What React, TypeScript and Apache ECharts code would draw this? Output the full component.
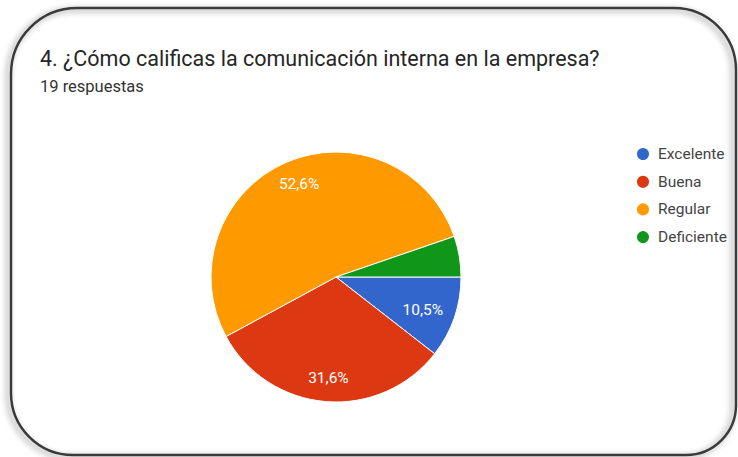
import React, { useEffect, useRef } from "react";
import * as echarts from "echarts";

const categories = ["Excelente", "Buena", "Regular", "Deficiente"];
const counts = [2, 6, 10, 1];
const colors = ["#3366cc", "#dc3912", "#ff9900", "#109618"];
const titleText = "4. ¿Cómo calificas la comunicación interna en la empresa?";
const subtitleText = "19 respuestas";

const CX = 336;
const CY = 277;
const R = 125;

export default function App() {
  const ref = useRef<HTMLDivElement>(null);
  useEffect(() => {
    if (!ref.current) return;
    const chart = echarts.init(ref.current, null, { renderer: "svg" });
    const total = counts.reduce((a, b) => a + b, 0);
    chart.setOption({
      animation: false,
      backgroundColor: "#ffffff",
      textStyle: { fontFamily: "Roboto" },
      title: {
        text: titleText,
        subtext: subtitleText,
        left: 35,
        top: 42,
        itemGap: 9,
        textStyle: { fontFamily: "Roboto", fontSize: 21.5, fontWeight: "normal", color: "#262626" },
        subtextStyle: { fontFamily: "Roboto", fontSize: 16.5, color: "#333333" },
      },
      legend: {
        orient: "vertical",
        left: 630,
        top: 141,
        itemWidth: 14,
        itemHeight: 14,
        itemGap: 11.7,
        icon: "circle",
        textStyle: { fontFamily: "Roboto", fontSize: 15.5, lineHeight: 16, color: "#444444", padding: [0, 0, 0, 3] },
        data: categories,
      },
      graphic: [
        {
          type: "rect",
          shape: { x: 11, y: 8, width: 725, height: 447, r: [66, 62, 50, 62] },
          style: {
            fill: "none",
            stroke: "#3a3a3a",
            lineWidth: 2.5,
            shadowBlur: 6,
            shadowColor: "rgba(0,0,0,0.45)",
            shadowOffsetX: -3,
            shadowOffsetY: 2,
          },
          z: 10,
        },
      ],
      series: [
        {
          type: "pie",
          center: [CX, CY],
          radius: R,
          startAngle: 0,
          clockwise: true,
          data: categories.map((c, i) => ({ name: c, value: counts[i], itemStyle: { color: colors[i] } })),
          itemStyle: { borderColor: "#ffffff", borderWidth: 1 },
          label: {
            show: true,
            position: "inside",
            color: "#ffffff",
            fontFamily: "Roboto",
            fontSize: 15.5,
            formatter: (p: any) =>
              p.value / total < 0.08 ? "" : ((p.value / total) * 100).toFixed(1).replace(".", ",") + "%",
          },
          labelLine: { show: false },
          labelLayout: (params: any) => {
            const r = params.labelRect;
            const lx = r.x + r.width / 2;
            const ly = r.y + r.height / 2;
            return { x: CX + (lx - CX) * 1.4, y: CY + (ly - CY) * 1.55 };
          },
          emphasis: { disabled: true },
        },
      ],
    });
    return () => chart.dispose();
  }, []);
  return (
    <div
      ref={ref}
      style={{ position: "absolute", left: 0, top: 0, width: 738, height: 457 }}
    />
  );
}
